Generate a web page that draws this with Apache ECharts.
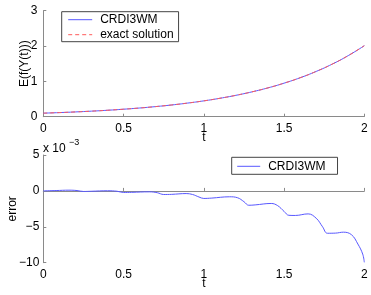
<!DOCTYPE html>
<html>
<head>
<meta charset="utf-8">
<script src="https://cdn.jsdelivr.net/npm/echarts@6/dist/echarts.min.js"></script>
<style>
html,body{margin:0;padding:0;background:#fff;}
#c{width:371px;height:295px;}
</style>
</head>
<body>
<div id="c"></div>
<script>
// ---- data ----
var topT = [0,0.1,0.2,0.3,0.4,0.5,0.6,0.7,0.8,0.9,1.0,1.1,1.2,1.3,1.4,1.5,1.6,1.7,1.8,1.9,2.0];
var crdiTop = [0.100,0.116,0.135,0.157,0.182,0.212,0.246,0.286,0.332,0.386,0.448,0.521,0.605,0.703,0.816,0.949,1.102,1.281,1.488,1.729,2.009];
var exactTop = [0.100,0.116,0.135,0.157,0.182,0.212,0.246,0.286,0.332,0.386,0.448,0.521,0.605,0.703,0.816,0.949,1.102,1.281,1.488,1.729,2.009];

// error values in units of 1e-3
var errT = [0,0.08,0.16,0.21,0.25,0.30,0.40,0.46,0.50,0.55,0.66,0.71,0.75,0.80,0.89,0.93,0.97,1.00,1.05,1.16,1.21,1.25,1.28,1.32,1.42,1.46,1.50,1.53,1.57,1.65,1.70,1.74,1.77,1.82,1.87,1.92,1.96,1.99,2.00];
var errV = [0,0.05,0.10,0.05,-0.08,-0.05,0.02,-0.05,-0.22,-0.20,-0.13,-0.25,-0.50,-0.48,-0.37,-0.50,-0.85,-1.05,-1.00,-0.82,-0.95,-1.50,-2.00,-1.95,-1.75,-2.05,-2.85,-3.40,-3.42,-3.20,-3.80,-5.00,-5.90,-5.88,-5.75,-6.10,-7.40,-8.80,-9.95];

var xTicks = ['0','0.5','1','1.5','2'];
var topYTicks = ['0','1','2','3'];
var botYTicks = ['\u221210','\u22125','0','5'];

function pairs(xs, ys){ return xs.map(function(x,i){ return [x, ys[i]]; }); }

var FONT = '"Liberation Sans", Arial, Helvetica, sans-serif';
var AX = '#8a8a8a';
var BLUE = '#5858ff';
var RED = '#ff5a5a';

function xAxisCfg(gi){
  return {
    type:'value', gridIndex:gi, min:0, max:2, interval:0.5,
    name:'t', nameLocation:'middle', nameGap:15, nameMoveOverlap:false,
    nameTextStyle:{color:'#000', fontSize:12, fontFamily:FONT},
    axisLine:{show:true, lineStyle:{color:AX, width:1}},
    axisTick:{show:true, inside:true, length:3, lineStyle:{color:AX}},
    axisLabel:{color:'#000', fontSize:12, fontFamily:FONT, margin:6,
      formatter:function(v){ return xTicks[Math.round(v/0.5)]; }},
    splitLine:{show:false}
  };
}

var legendCommon = {
  orient:'vertical', itemGap:3, itemHeight:12,
  borderColor:'#444', borderWidth:1, backgroundColor:'#fff',
  selectedMode:false,
  itemStyle:{opacity:0, borderWidth:0},
  lineStyle:{width:1},
  textStyle:{color:'#000', fontSize:12, fontFamily:FONT, padding:[0,0,0,3]}
};

var option = {
  animation:false,
  backgroundColor:'#fff',
  textStyle:{fontFamily:FONT},
  grid:[
    {left:43.3, right:6.7, top:10.7, height:106, containLabel:false, outerBoundsMode:'none'},
    {left:43.3, right:6.7, top:155, height:107.7, containLabel:false, outerBoundsMode:'none'}
  ],
  xAxis:[xAxisCfg(0), xAxisCfg(1)],
  yAxis:[
    {type:'value', gridIndex:0, min:0, max:3, interval:1,
     name:'E(f(Y(t)))', nameLocation:'middle', nameGap:13, nameRotate:90, nameMoveOverlap:false,
     nameTextStyle:{color:'#000', fontSize:12, fontFamily:FONT},
     axisLine:{show:true, lineStyle:{color:AX, width:1}},
     axisTick:{show:true, inside:true, length:3, lineStyle:{color:AX}},
     axisLabel:{color:'#000', fontSize:12, fontFamily:FONT, margin:6,
       formatter:function(v){ return topYTicks[Math.round(v)]; }},
     splitLine:{show:false}},
    {type:'value', gridIndex:1, min:-10, max:5, interval:5,
     name:'error', nameLocation:'middle', nameGap:25, nameRotate:90, nameMoveOverlap:false,
     nameTextStyle:{color:'#000', fontSize:12, fontFamily:FONT},
     axisLine:{show:true, lineStyle:{color:AX, width:1}},
     axisTick:{show:true, inside:true, length:3, lineStyle:{color:AX}},
     axisLabel:{color:'#000', fontSize:12, fontFamily:FONT, margin:4,
       formatter:function(v){ return botYTicks[Math.round((v+10)/5)]; }},
     splitLine:{show:false}}
  ],
  legend:[
    Object.assign({}, legendCommon, {left:61.7, top:11.7,
     data:['CRDI3WM','exact solution'], padding:[2,5,1,6], itemWidth:24}),
    Object.assign({}, legendCommon, {left:231.7, top:157.3,
     data:['CRDI3WM'], padding:[3,12,2,5], itemWidth:23})
  ],
  graphic:[
    {type:'text', left:43, top:143, style:{text:'x 10', fontSize:12, fontFamily:FONT, fill:'#000'}},
    {type:'text', left:69, top:138, style:{text:'\u22123', fontSize:9, fontFamily:FONT, fill:'#000'}}
  ],
  series:[
    {name:'CRDI3WM', type:'line', xAxisIndex:0, yAxisIndex:0, data:pairs(topT, crdiTop),
     smooth:true, symbol:'none', showSymbol:false,
     lineStyle:{color:BLUE, width:1}, itemStyle:{color:BLUE}, z:2},
    {name:'exact solution', type:'line', xAxisIndex:0, yAxisIndex:0, data:pairs(topT, exactTop),
     smooth:true, symbol:'none', showSymbol:false,
     lineStyle:{color:RED, width:1, type:[4,3]}, itemStyle:{color:RED}, z:3},
    {name:'CRDI3WM', type:'line', xAxisIndex:1, yAxisIndex:1, data:pairs(errT, errV),
     smooth:0.4, symbol:'none', showSymbol:false,
     lineStyle:{color:BLUE, width:1}, itemStyle:{color:BLUE}, z:2}
  ]
};

var chart = echarts.init(document.getElementById('c'), null, {renderer:'canvas'});
chart.setOption(option);
</script>
</body>
</html>
